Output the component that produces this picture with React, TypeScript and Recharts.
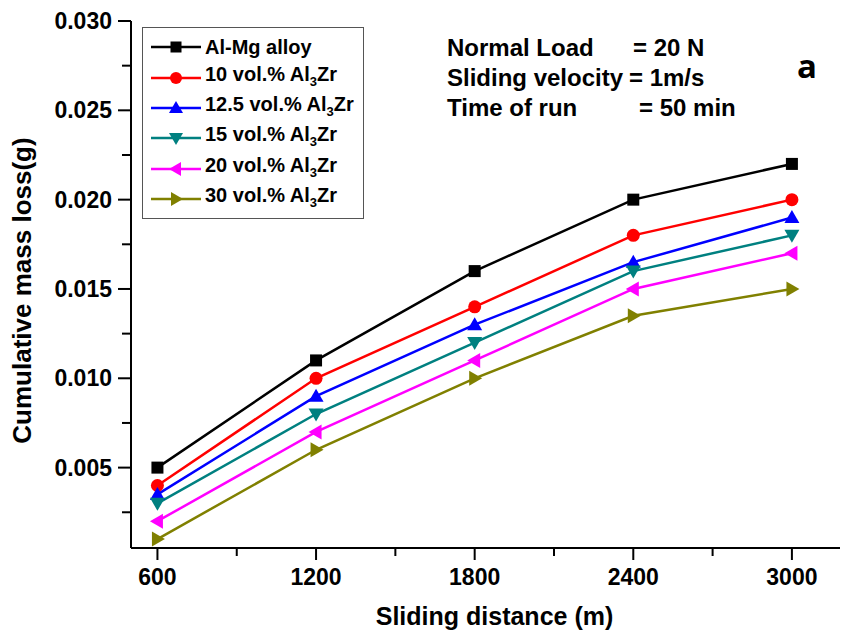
import { LineChart, Line, XAxis, YAxis, Legend } from 'recharts';

const DISTANCE = [600, 1200, 1800, 2400, 3000];
const AL_MG = [0.005, 0.011, 0.016, 0.02, 0.022];
const VOL_10 = [0.004, 0.01, 0.014, 0.018, 0.02];
const VOL_12_5 = [0.0035, 0.009, 0.013, 0.0165, 0.019];
const VOL_15 = [0.003, 0.008, 0.012, 0.016, 0.018];
const VOL_20 = [0.002, 0.007, 0.011, 0.015, 0.017];
const VOL_30 = [0.001, 0.006, 0.01, 0.0135, 0.015];

const X_MAJOR = [600, 1200, 1800, 2400, 3000];
const X_MINOR = [900, 1500, 2100, 2700];
const Y_MAJOR = [0.005, 0.01, 0.015, 0.02, 0.025, 0.03];
const Y_MINOR = [0.0025, 0.0075, 0.0125, 0.0175, 0.0225, 0.0275];

const SERIES = [
  { key: 'alMg', label: 'Al-Mg alloy', values: AL_MG, color: '#000000', shape: 'square' },
  { key: 'v10', label: '10 vol.% Al3Zr', values: VOL_10, color: '#ff0000', shape: 'circle' },
  { key: 'v125', label: '12.5 vol.% Al3Zr', values: VOL_12_5, color: '#0000ff', shape: 'up' },
  { key: 'v15', label: '15 vol.% Al3Zr', values: VOL_15, color: '#008080', shape: 'down' },
  { key: 'v20', label: '20 vol.% Al3Zr', values: VOL_20, color: '#ff00ff', shape: 'left' },
  { key: 'v30', label: '30 vol.% Al3Zr', values: VOL_30, color: '#808000', shape: 'right' },
];

const data = DISTANCE.map((x, i) => {
  const row: any = { x };
  SERIES.forEach((s) => (row[s.key] = s.values[i]));
  return row;
});

const FONT = '"Liberation Sans", Arial, sans-serif';

function Marker({ shape, cx, cy, color, s = 13 }: any) {
  const h = s / 2;
  switch (shape) {
    case 'square':
      return <rect x={cx - h + 0.5} y={cy - h + 0.5} width={s - 1} height={s - 1} fill={color} />;
    case 'circle':
      return <circle cx={cx} cy={cy} r={h} fill={color} />;
    case 'up':
      return <polygon points={`${cx},${cy - h - 1} ${cx + h + 1},${cy + h - 1} ${cx - h - 1},${cy + h - 1}`} fill={color} />;
    case 'down':
      return <polygon points={`${cx},${cy + h + 1} ${cx + h + 1},${cy - h + 1} ${cx - h - 1},${cy - h + 1}`} fill={color} />;
    case 'left':
      return <polygon points={`${cx - h - 1},${cy} ${cx + h - 1},${cy - h - 1} ${cx + h - 1},${cy + h + 1}`} fill={color} />;
    default:
      return <polygon points={`${cx + h + 1},${cy} ${cx - h + 1},${cy - h - 1} ${cx - h + 1},${cy + h + 1}`} fill={color} />;
  }
}

function renderLabel(label: string) {
  const parts = label.split('Al3Zr');
  if (parts.length === 1) return label;
  return (
    <>
      {parts[0]}Al<sub style={{ fontSize: 13, verticalAlign: -5 }}>3</sub>Zr
    </>
  );
}

const XTick = (props: any) => {
  const { x, y, payload } = props;
  const major = X_MAJOR.includes(payload.value);
  return (
    <g>
      <line x1={x} x2={x} y1={y} y2={y + (major ? 12 : 8)} stroke="#000" strokeWidth={2} />
      {major && (
        <text x={x} y={y + 37} textAnchor="middle" fontFamily={FONT} fontWeight="bold" fontSize={23} fill="#000">
          {payload.value}
        </text>
      )}
    </g>
  );
};

const YTick = (props: any) => {
  const { x, y, payload } = props;
  const major = Y_MAJOR.some((v) => Math.abs(v - payload.value) < 1e-9);
  return (
    <g>
      <line x1={x - (major ? 13 : 9)} x2={x} y1={y} y2={y} stroke="#000" strokeWidth={2} />
      {major && (
        <text x={x - 19} y={y + 8} textAnchor="end" fontFamily={FONT} fontWeight="bold" fontSize={23} fill="#000">
          {payload.value.toFixed(3)}
        </text>
      )}
    </g>
  );
};

const XTitle = (props: any) => {
  const { x, y, width } = props.viewBox;
  return (
    <text x={x + width / 2} y={y + 77} textAnchor="middle" fontFamily={FONT} fontWeight="bold" fontSize={25} fill="#000">
      Sliding distance (m)
    </text>
  );
};

const YTitle = (props: any) => {
  const { x, y, height } = props.viewBox;
  const cx = x - 9;
  const cy = y + height / 2 + 6;
  return (
    <text
      x={cx}
      y={cy + 9}
      transform={`rotate(-90, ${cx}, ${cy})`}
      textAnchor="middle"
      fontFamily={FONT}
      fontWeight="bold"
      fontSize={26}
      fill="#000"
    >
      Cumulative mass loss(g)
    </text>
  );
};

const LegendBox = () => (
  <div
    style={{
      width: 222,
      height: 192,
      border: '1px solid #555',
      background: '#fff',
      boxSizing: 'border-box',
      paddingTop: 4,
      fontFamily: FONT,
      fontWeight: 'bold',
      fontSize: 20,
      color: '#000',
    }}
  >
    {SERIES.map((s) => (
      <div key={s.key} style={{ height: 30.4, display: 'flex', alignItems: 'center' }}>
        <svg width={62} height={20} style={{ flex: 'none' }}>
          <line x1={8} x2={58} y1={10} y2={10} stroke={s.color} strokeWidth={2.5} />
          <Marker shape={s.shape} cx={33} cy={10} color={s.color} s={12} />
        </svg>
        <span style={{ whiteSpace: 'nowrap', lineHeight: '20px' }}>{renderLabel(s.label)}</span>
      </div>
    ))}
  </div>
);

export default function App() {
  return (
    <div style={{ position: 'relative', margin: '-8px 0 0 -8px', width: 848, height: 637, overflow: 'hidden', background: '#fff' }}>
      <LineChart width={870} height={637} data={data} margin={{ top: 21, right: 12, left: 31, bottom: 49 }}>
        <XAxis
          xAxisId="top"
          orientation="top"
          dataKey="x"
          type="number"
          domain={[500, 3250]}
          height={0}
          tick={false}
          tickLine={false}
          axisLine={{ stroke: '#000', strokeWidth: 2 }}
        />
        <XAxis
          dataKey="x"
          type="number"
          domain={[500, 3250]}
          ticks={[...X_MAJOR, ...X_MINOR].sort((a, b) => a - b)}
          interval={0}
          height={40}
          tickSize={0}
          tickMargin={0}
          tickLine={false}
          tick={<XTick />}
          axisLine={{ stroke: '#000', strokeWidth: 2 }}
          label={<XTitle />}
        />
        <YAxis
          type="number"
          domain={[0.0005, 0.03]}
          ticks={[...Y_MAJOR, ...Y_MINOR].sort((a, b) => a - b)}
          interval={0}
          width={100}
          tickSize={0}
          tickMargin={0}
          tickLine={false}
          tick={<YTick />}
          axisLine={{ stroke: '#000', strokeWidth: 2 }}
          label={<YTitle />}
        />
        <Legend
          layout="vertical"
          align="center"
          verticalAlign="middle"
          content={<LegendBox />}
          wrapperStyle={{ left: 142, top: 27, width: 222, height: 192 }}
        />
        {SERIES.map((s) => (
          <Line
            key={s.key}
            dataKey={s.key}
            name={s.label}
            stroke={s.color}
            strokeWidth={2.5}
            isAnimationActive={false}
            dot={(p: any) => <Marker key={`${s.key}-${p.index}`} shape={s.shape} cx={p.cx} cy={p.cy} color={s.color} />}
          />
        ))}
      </LineChart>
      <svg width={848} height={637} style={{ position: 'absolute', left: 0, top: 0, pointerEvents: 'none' }}>
        <g fontFamily={FONT} fontWeight="bold" fontSize={24} fill="#000">
          <text x={447} y={56}>Normal Load</text>
          <text x={633} y={56}>= 20 N</text>
          <text x={447} y={86}>Sliding velocity</text>
          <text x={629} y={86}>= 1m/s</text>
          <text x={447} y={116}>Time of run</text>
          <text x={639} y={116}>= 50 min</text>
        </g>
        <text x={797} y={78} fontFamily='"Open Sans", sans-serif' fontWeight="bold" fontSize={33} fill="#000">
          a
        </text>
      </svg>
    </div>
  );
}
